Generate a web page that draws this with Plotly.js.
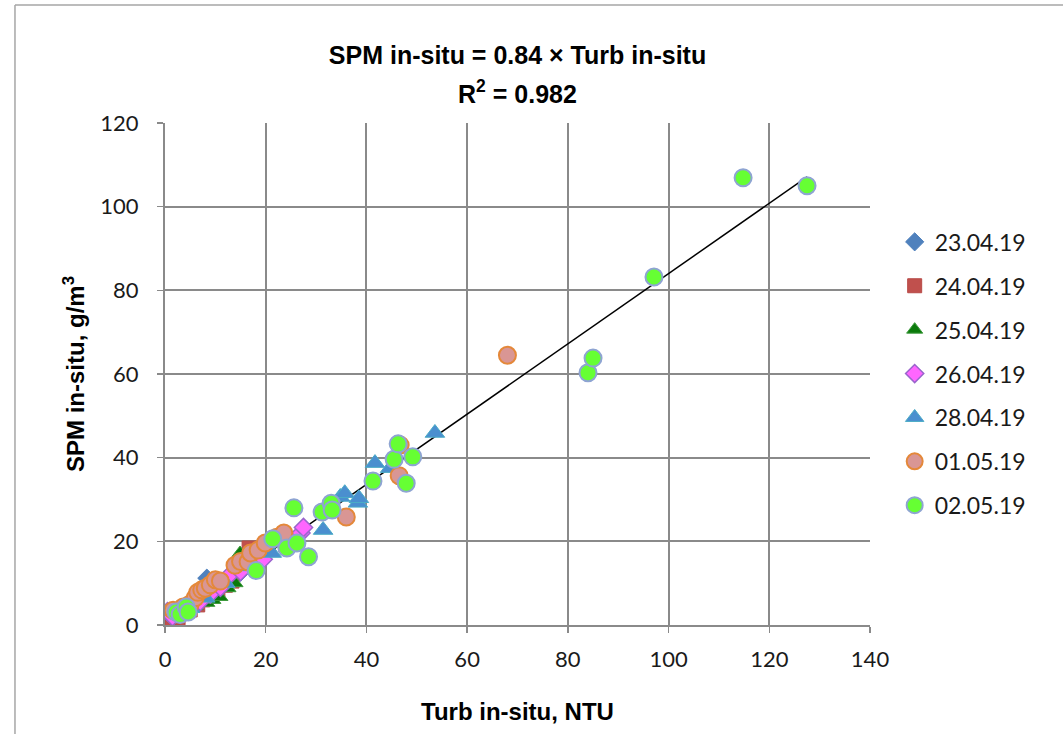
<!DOCTYPE html>
<html>
<head>
<meta charset="utf-8">
<script src="https://cdn.plot.ly/plotly-3.0.1.min.js"></script>
<style>html,body{margin:0;padding:0;background:#fff;}#chart{width:1063px;height:734px;}</style>
</head>
<body>
<div id="chart"></div>
<script>
// ---- data ----
const seriesNames = ["23.04.19", "24.04.19", "25.04.19", "26.04.19", "28.04.19", "01.05.19", "02.05.19"];

const turb_230419 = [0.3, 1.5, 3.0, 4.5, 6.0, 8.3, 9.5, 11.0, 13.0, 15.0];
const spm_230419  = [2.4, 1.8, 2.8, 4.0, 5.0, 11.2, 7.5, 9.0, 11.0, 12.6];

const turb_240419 = [1.5, 2.6, 3.5, 5.0, 6.5, 7.5, 9.0, 10.5, 12.0, 13.3, 16.7];
const spm_240419  = [1.5, 1.7, 2.8, 3.6, 4.8, 6.0, 7.0, 8.0, 9.5, 10.5, 18.4];

const turb_250419 = [2.0, 4.0, 6.0, 8.3, 9.5, 10.9, 12.5, 13.9, 14.9, 16.0];
const spm_250419  = [1.8, 3.0, 4.5, 5.3, 6.0, 6.7, 8.8, 10.0, 17.2, 16.0];

const turb_260419 = [0.5, 1.5, 3.0, 5.0, 7.0, 9.0, 11.0, 12.9, 15.0, 19.5, 27.0, 27.5];
const spm_260419  = [3.2, 2.0, 2.8, 4.0, 5.6, 7.4, 9.0, 12.0, 12.8, 15.7, 22.0, 23.3];

const turb_280419 = [3.0, 5.0, 8.0, 12.0, 16.0, 21.2, 31.4, 34.8, 35.7, 38.3, 38.5, 41.7, 44.7, 53.6];
const spm_280419  = [2.5, 4.0, 6.5, 10.0, 14.0, 17.2, 22.7, 30.6, 31.5, 29.2, 30.3, 38.7, 37.5, 45.9];

const turb_010519 = [1.6, 2.5, 3.6, 5.0, 6.0, 6.5, 7.3, 8.0, 9.0, 10.0, 11.0, 13.9, 15.0, 16.5, 17.0, 18.5, 19.9, 22.2, 23.6, 36.0, 46.5, 46.7, 68.0];
const spm_010519  = [3.5, 3.0, 4.3, 5.0, 6.5, 7.8, 8.4, 8.8, 9.6, 10.8, 10.5, 14.3, 15.2, 15.1, 17.2, 17.9, 19.6, 21.0, 22.0, 25.8, 35.7, 43.0, 64.5];

const turb_020519 = [2.2, 3.0, 4.2, 4.6, 18.1, 21.4, 24.2, 25.6, 26.2, 28.5, 31.2, 33.0, 33.2, 41.3, 45.5, 46.3, 47.9, 49.2, 84.0, 85.0, 97.1, 114.8, 127.5];
const spm_020519  = [3.1, 2.5, 4.3, 3.1, 13.0, 20.6, 18.4, 28.0, 19.6, 16.3, 27.0, 29.1, 27.5, 34.4, 39.6, 43.3, 33.9, 40.2, 60.3, 63.8, 83.2, 106.9, 105.0];

const slope = 0.84;
const r2 = 0.982;

const xTicks = [0, 20, 40, 60, 80, 100, 120, 140];
const yTicks = [0, 20, 40, 60, 80, 100, 120];

// ---- styles ----
const styles = [
  {symbol: "diamond", size: 14, color: "#4F81BD", line: {color: "#4F81BD", width: 1}},
  {symbol: "square", size: 14, color: "#C0504D", line: {color: "#B84A47", width: 1}},
  {symbol: "triangle-up", size: 14, color: "#0B7A0B", line: {color: "#3C9A3C", width: 1}},
  {symbol: "diamond", size: 14, color: "#FF66FF", line: {color: "#9966CC", width: 1.5}},
  {symbol: "triangle-up", size: 17, color: "#4A8FCF", line: {color: "#4BACC6", width: 1}},
  {symbol: "circle", size: 17, color: "#D99694", line: {color: "#E4883A", width: 2}},
  {symbol: "circle", size: 17, color: "#66FF33", line: {color: "#8EA4D2", width: 2}}
];

const xs = [turb_230419, turb_240419, turb_250419, turb_260419, turb_280419, turb_010519, turb_020519];
const ys = [spm_230419, spm_240419, spm_250419, spm_260419, spm_280419, spm_010519, spm_020519];

const traces = [];
const allX = [].concat(...xs);
const xMin = Math.min(...allX), xMax = Math.max(...allX);
traces.push({
  x: [xMin, xMax], y: [slope * xMin, slope * xMax],
  mode: "lines", line: {color: "#000000", width: 1.5},
  showlegend: false, hoverinfo: "skip"
});
for (let i = 0; i < seriesNames.length; i++) {
  traces.push({
    x: xs[i], y: ys[i], name: seriesNames[i], legendgroup: seriesNames[i],
    type: "scatter", mode: "markers",
    marker: {symbol: styles[i].symbol, size: styles[i].size, color: styles[i].color, line: styles[i].line}
  });
}

const gridColor = "#8A8A8A";
const tickFont = {family: "Lato, 'Open Sans', sans-serif", size: 22, color: "#1a1a1a"};
const legendFont = {family: "Lato, 'Open Sans', sans-serif", size: 23, color: "#1a1a1a"};
const boldFont = {family: "'Liberation Sans', Arial, sans-serif", size: 24, color: "#000000"};
const titleFont = {family: "'Liberation Sans', Arial, sans-serif", size: 25, color: "#000000"};

const layout = {
  width: 1063, height: 734,
  margin: {l: 165, r: 193, t: 123, b: 109, pad: 0},
  paper_bgcolor: "#ffffff", plot_bgcolor: "#ffffff",
  title: {
    text: "<b>SPM in-situ = " + slope.toFixed(2) + " × Turb in-situ</b>",
    font: titleFont,
    x: 0.5, xref: "paper", xanchor: "center",
    y: 1 - 55 / 734, yref: "container", yanchor: "middle"
  },
  annotations: [{
    text: "<b>R<sup>2</sup> = " + r2.toFixed(3) + "</b>",
    x: 0.5, xref: "paper", xanchor: "center",
    y: 1.062, yref: "paper", yanchor: "middle",
    showarrow: false,
    font: titleFont
  }],
  xaxis: {
    range: [0, 140], tickvals: xTicks, ticktext: xTicks.map(String),
    showgrid: true, gridcolor: gridColor, gridwidth: 2,
    showline: true, linecolor: gridColor, linewidth: 2, mirror: false,
    ticks: "outside", ticklen: 6, tickcolor: gridColor, tickwidth: 1.5,
    zeroline: false, tickfont: tickFont, ticklabelstandoff: 8,
    title: {text: "<b>Turb in-situ, NTU</b>", font: boldFont, standoff: 32},
    automargin: false, fixedrange: true
  },
  yaxis: {
    range: [0, 120], tickvals: yTicks, ticktext: yTicks.map(String),
    showgrid: true, gridcolor: gridColor, gridwidth: 2,
    showline: true, linecolor: gridColor, linewidth: 2,
    ticks: "outside", ticklen: 6, tickcolor: gridColor, tickwidth: 1.5,
    zeroline: false, tickfont: tickFont, ticklabelstandoff: 14,
    title: {text: "<b>SPM in-situ, g/m<sup>3</sup></b>", font: boldFont, standoff: 9},
    automargin: false, fixedrange: true
  },
  showlegend: true,
  legend: {
    x: 1.035, xanchor: "left", y: 0.806, yanchor: "top",
    font: legendFont, traceorder: "grouped", tracegroupgap: 11,
    bgcolor: "rgba(0,0,0,0)", itemclick: false
  },
  shapes: [
    {type: "line", xref: "paper", yref: "paper", x0: -0.2128, x1: -0.2128, y0: -1, y1: 1.235, line: {color: "#A6A6A6", width: 1.5}},
    {type: "line", xref: "paper", yref: "paper", x0: -0.2128, x1: 2, y0: 1.235, y1: 1.235, line: {color: "#A6A6A6", width: 1.5}}
  ]
};

Plotly.newPlot("chart", traces, layout, {displayModeBar: false, staticPlot: true});
</script>
</body>
</html>
